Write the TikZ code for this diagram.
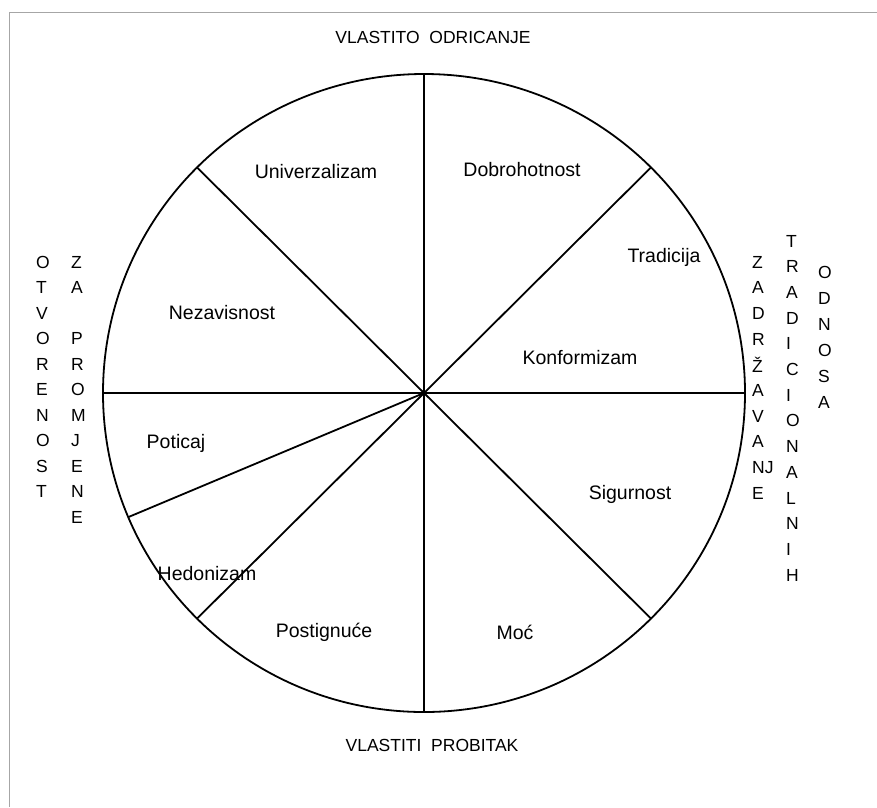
\documentclass[tikz,border=0pt]{standalone}
\usepackage{fontspec}
\setmainfont{Liberation Sans}
\begin{document}
\begin{tikzpicture}[x=1pt,y=-1pt,
  frame/.style={draw=black!35, line width=1pt},
  wheel/.style={draw=black, line width=1.8pt},
  spoke/.style={draw=black, line width=1.8pt},
  seg/.style={font=\fontsize{19.5}{22}\selectfont, inner sep=0pt},
  title/.style={font=\fontsize{17.5}{20}\selectfont, inner sep=0pt},
  vletter/.style={font=\fontsize{17.5}{20}\selectfont, inner sep=0pt, anchor=west}]
\useasboundingbox (0,0) rectangle (877,807);
% frame
\coordinate (ftr) at (877,12);
\coordinate (ftl) at (9,12);
\coordinate (fbl) at (9,807);
\draw[frame] (ftr) -- (ftl) -- (fbl);
% wheel
\coordinate (O) at (424,393);
\draw[wheel] (O) ellipse [x radius=321, y radius=319];
\coordinate (top) at (424,74);
\coordinate (bot) at (424,712);
\coordinate (lft) at (103,393);
\coordinate (rgt) at (745,393);
\coordinate (nw) at (197,167.4);
\coordinate (ne) at (651,167.4);
\coordinate (se) at (651,618.6);
\coordinate (sw) at (197,618.6);
\coordinate (pot) at (128.3,517.1);
\draw[spoke] (top) -- (bot);
\draw[spoke] (lft) -- (rgt);
\draw[spoke] (nw) -- (se);
\draw[spoke] (ne) -- (sw);
\draw[spoke] (O) -- (pot);
% segment labels
\node[seg] (univ) at (316,172) {Univerzalizam};
\node[seg] (dobr) at (522,170) {Dobrohotnost};
\node[seg] (trad) at (664,257) {Tradicija};
\node[seg] (neza) at (222,313) {Nezavisnost};
\node[seg] (konf) at (580,358) {Konformizam};
\node[seg] (poti) at (176,443) {Poticaj};
\node[seg] (sigu) at (630,494) {Sigurnost};
\node[seg] (hedo) at (207,574) {Hedonizam};
\node[seg] (post) at (324,632) {Postignuće};
\node[seg] (moc) at (515,632) {Moć};
% titles
\node[title] (vo) at (433,37) {VLASTITO\ \ ODRICANJE};
\node[title] (vp) at (432,745) {VLASTITI\ \ PROBITAK};
% left vertical words
\foreach \l [count=\i from 0] in {O,T,V,O,R,E,N,O,S,T}
  \node[vletter] (otv\i) at (36,262+25.5*\i) {\l};
\foreach \l [count=\i from 0] in {Z,A,{},P,R,O,M,J,E,N,E}
  \node[vletter] (zap\i) at (71,262+25.5*\i) {\l};
% right vertical words
\foreach \l [count=\i from 0] in {Z,A,D,R,Ž,A,V,A,NJ,E}
  \node[vletter] (zad\i) at (752,262+25.7*\i) {\l};
\foreach \l [count=\i from 0] in {T,R,A,D,I,C,I,O,N,A,L,N,I,H}
  \node[vletter] (tra\i) at (786,241+25.7*\i) {\l};
\foreach \l [count=\i from 0] in {O,D,N,O,S,A}
  \node[vletter] (odn\i) at (818,272+26*\i) {\l};
\end{tikzpicture}
\end{document}
